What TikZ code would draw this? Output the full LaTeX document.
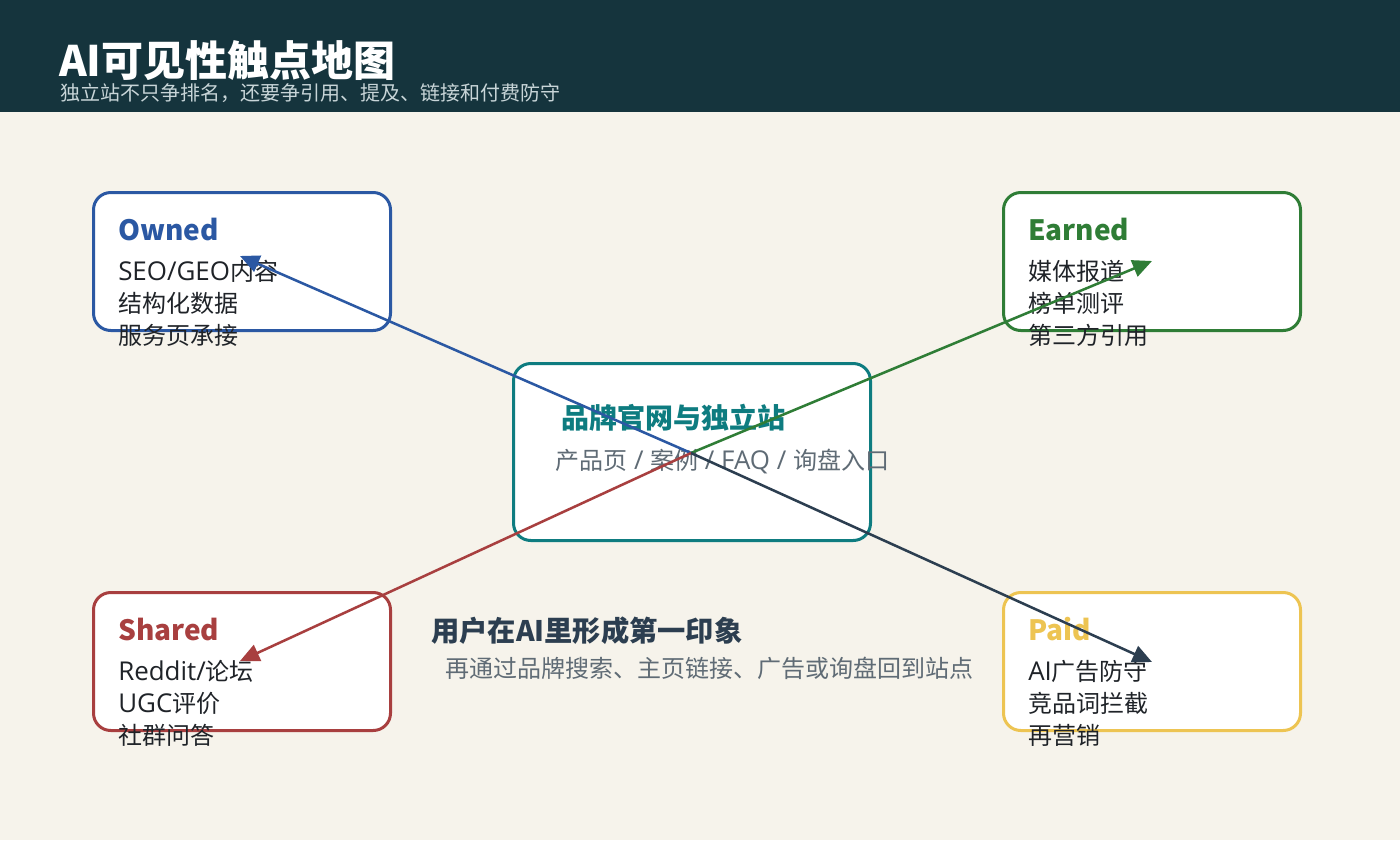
\documentclass[tikz,border=0pt]{standalone}
\usepackage{fontspec}
\setmainfont{Noto Sans CJK SC}
\newfontfamily\lat[Scale=1.08]{Open Sans}
\usetikzlibrary{arrows.meta}
\definecolor{hdr}{HTML}{15343D}
\definecolor{bg}{HTML}{F6F3EB}
\definecolor{cblue}{HTML}{2B58A3}
\definecolor{cgreen}{HTML}{2F7D36}
\definecolor{cred}{HTML}{A83F3F}
\definecolor{cyel}{HTML}{EDC452}
\definecolor{cteal}{HTML}{0E7C80}
\definecolor{cnavy}{HTML}{2C3E50}
\definecolor{cgray}{HTML}{5F6B75}
\definecolor{ctext}{HTML}{1F2328}
\definecolor{csub}{HTML}{C8D5D8}
\tikzset{
  box/.style={draw=#1, line width=2.25pt, fill=white, rounded corners=13pt,
    minimum width=222.75pt, minimum height=103.5pt, anchor=north west, inner sep=0pt},
  boxtitle/.style={anchor=base west, font=\fontsize{21}{21}\selectfont\bfseries, text=#1, inner sep=0pt},
  boxline/.style={anchor=base west, font=\fontsize{18}{18}\selectfont, text=ctext, inner sep=0pt},
  conn/.style={draw=#1, line width=1.9pt, -{Triangle[length=14.5pt,width=13pt]}}
}
\begin{document}
\begin{tikzpicture}[x=0.75pt,y=-0.75pt]
\useasboundingbox (0,0) rectangle (1400,840);
\fill[bg] (0,0) rectangle (1400,840);
\fill[hdr] (0,0) rectangle (1400,112);
\node[anchor=base west, inner sep=0pt, text=white, font=\fontsize{31.5}{32}\selectfont\bfseries] (title) at (59,76) {AI可见性触点地图};
\node[anchor=base west, inner sep=0pt, text=csub, font=\fontsize{15}{15}\selectfont] (subtitle) at (60,100) {独立站不只争排名，还要争引用、提及、链接和付费防守};

% boxes
\node[box=cblue] (owned) at (92,191) {};
\node[box=cgreen] (earned) at (1002,191) {};
\node[box=cred] (shared) at (92,591) {};
\node[box=cyel] (paid) at (1002,591) {};
\node[box=cteal, minimum width=267.75pt, minimum height=132.75pt] (center) at (512,362) {};

% owned
\node[boxtitle=cblue] (ot) at (118,240) {Owned};
\node[boxline] (o1) at (118,280) {{\lat SEO/GEO}内容};
\node[boxline] (o2) at (118,312) {结构化数据};
\node[boxline] (o3) at (118,344) {服务页承接};
% earned
\node[boxtitle=cgreen] (et) at (1028,240) {Earned};
\node[boxline] (e1) at (1028,280) {媒体报道};
\node[boxline] (e2) at (1028,312) {榜单测评};
\node[boxline] (e3) at (1028,344) {第三方引用};
% shared
\node[boxtitle=cred] (st) at (118,640) {Shared};
\node[boxline] (s1) at (118,680) {{\lat Reddit/}论坛};
\node[boxline] (s2) at (118,712) {{\lat UGC}评价};
\node[boxline] (s3) at (118,744) {社群问答};
% paid
\node[boxtitle=cyel] (pt) at (1028,640) {Paid};
\node[boxline] (p1) at (1028,680) {{\lat AI}广告防守};
\node[boxline] (p2) at (1028,712) {竞品词拦截};
\node[boxline] (p3) at (1028,744) {再营销};

% center text
\node[anchor=base west, inner sep=0pt, text=cteal, font=\fontsize{21}{21}\selectfont\bfseries] (ct) at (561,428) {品牌官网与独立站};
\node[anchor=base west, inner sep=0pt, text=cgray, font=\fontsize{18}{18}\selectfont] (cs) at (555,469) {产品页{\lat\ / }案例{\lat\ / FAQ / }询盘入口};

% bottom text
\node[anchor=base west, inner sep=0pt, text=cnavy, font=\fontsize{21.2}{21}\selectfont\bfseries] (bt) at (431,641) {用户在AI里形成第一印象};
\node[anchor=base west, inner sep=0pt, text=cgray, font=\fontsize{18}{18}\selectfont] (bs) at (445,677) {再通过品牌搜索、主页链接、广告或询盘回到站点};

% connectors
\coordinate (hub) at (691,453);
\coordinate (oend) at (240,256);
\coordinate (eend) at (1152,261);
\coordinate (send) at (240,661);
\coordinate (pend) at (1152,662);
\draw[conn=cblue] (hub) -- (oend);
\draw[conn=cgreen] (hub) -- (eend);
\draw[conn=cred] (hub) -- (send);
\draw[conn=cnavy] (hub) -- (pend);
\end{tikzpicture}
\end{document}
